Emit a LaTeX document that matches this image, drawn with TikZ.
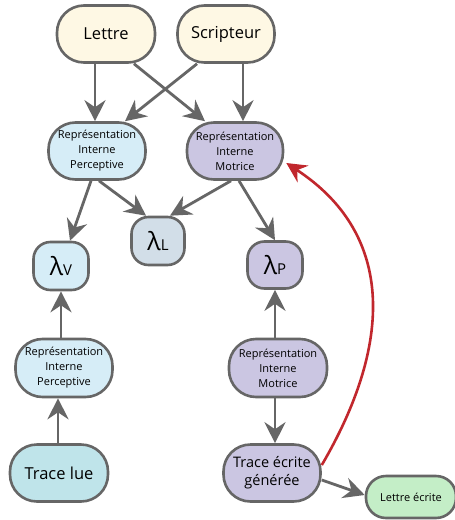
\documentclass[tikz,border=0pt]{standalone}
\usepackage{fontspec}
\setmainfont{Open Sans}
\usetikzlibrary{arrows.meta}
\definecolor{Edge}{HTML}{666666}
\definecolor{Cream}{HTML}{FEF8E4}
\definecolor{SkyLight}{HTML}{D6EDF7}
\definecolor{Lilac}{HTML}{CBC6E2}
\definecolor{Steel}{HTML}{D2DEE8}
\definecolor{Aqua}{HTML}{BFE4EA}
\definecolor{Mint}{HTML}{C4EEC7}
\definecolor{RedArc}{HTML}{C1272D}
\tikzset{base/.style={draw=Edge,line width=2.6pt,rounded corners=27pt,align=center,inner sep=2pt},big/.style={base,minimum width=98pt,minimum height=57pt,font=\fontsize{16.5}{19}\selectfont},rep/.style={base,minimum width=97pt,minimum height=57pt,font=\fontsize{11}{15}\selectfont},lam/.style={base,rounded corners=17pt,minimum width=54pt,minimum height=48pt},flow/.style={-{Stealth[length=21pt,width=21pt,inset=7pt]},line width=2.8pt,draw=Edge},back/.style={-{Stealth[length=20pt,width=20pt,inset=7pt]},line width=2.6pt,draw=RedArc}}
\newcommand{\lamtxt}[1]{{\fontsize{25}{26}\selectfont λ}{\fontsize{15}{18}\selectfont #1}}

\begin{document}
\begin{tikzpicture}[x=1pt,y=-1pt]
      \useasboundingbox[fill=white](0,0) rectangle (455,520);
      % sources
      \node[big,fill=Cream](lettre) at (106,34){Lettre};
      \node[big,fill=Cream,minimum width=97pt](scripteur) at (226,34){Scripteur};
      % representations
      \node[rep,fill=SkyLight](ripA) at (97,151){Représentation\\Interne\\Perceptive};
      \node[rep,fill=Lilac,minimum width=96pt](rimA) at (235,151){Représentation\\Interne\\Motrice};
      \node[lam,fill=Steel,minimum width=53pt](lamL) at (158,241){\lamtxt{L}};
      \node[lam,fill=SkyLight,minimum width=55pt](lamV) at (61,266){\lamtxt{V}};
      \node[lam,fill=Lilac,minimum width=55pt,minimum height=47pt](lamP) at (275,265){\lamtxt{P}};
      \node[rep,fill=SkyLight,minimum height=58pt](ripB) at (64,368){Représentation\\Interne\\Perceptive};
      \node[rep,fill=Lilac,minimum width=98pt,minimum height=58pt](rimB) at (278,368){Représentation\\Interne\\Motrice};
      % traces
      \node[big,fill=Aqua](tlue) at (59,473){Trace lue};
      \node[big,fill=Lilac,minimum width=97pt,font=\fontsize{14.5}{18}\selectfont](tecr) at (272,473){Trace écrite\\générée};
      \node[base,fill=Mint,minimum width=90pt,minimum height=42pt,rounded corners=20pt,font=\fontsize{11}{13}\selectfont](lecr) at (411,497){Lettre écrite};
      % connectors
      \draw[flow]([xshift=-11pt]lettre.south)--([xshift=-2pt]ripA.north);
      \draw[flow]([xshift=28pt]lettre.south)--([xshift=-30pt]rimA.north);
      \draw[flow]([xshift=-29pt]scripteur.south)--([xshift=28pt]ripA.north);
      \draw[flow]([xshift=17pt]scripteur.south)--([xshift=8pt]rimA.north);
      \draw[flow]([xshift=-6pt]ripA.south)--([xshift=9pt]lamV.north);
      \draw[flow]([xshift=2pt]ripA.south)--([xshift=-12pt]lamL.north);
      \draw[flow]([xshift=-4pt]rimA.south)--([xshift=12pt]lamL.north);
      \draw[flow]([xshift=4pt]rimA.south)--([xshift=0pt]lamP.north);
      \draw[flow]([xshift=-3pt]ripB.north)--([xshift=0pt]lamV.south);
      \draw[flow]([xshift=-1pt]tlue.north)--([xshift=-6pt]ripB.south);
      \draw[flow]([xshift=-3pt]rimB.north)--([xshift=0pt]lamP.south);
      \draw[flow]([xshift=-3pt]rimB.south)--([xshift=3pt]tecr.north);
      \draw[flow]([yshift=-7pt]tecr.east)--([yshift=2pt]lecr.west);
      \draw[back]([yshift=8pt]tecr.east) .. controls (392,345) and (396,235) .. ([xshift=2pt,yshift=-12pt]rimA.east);
    \end{tikzpicture}
\end{document}
